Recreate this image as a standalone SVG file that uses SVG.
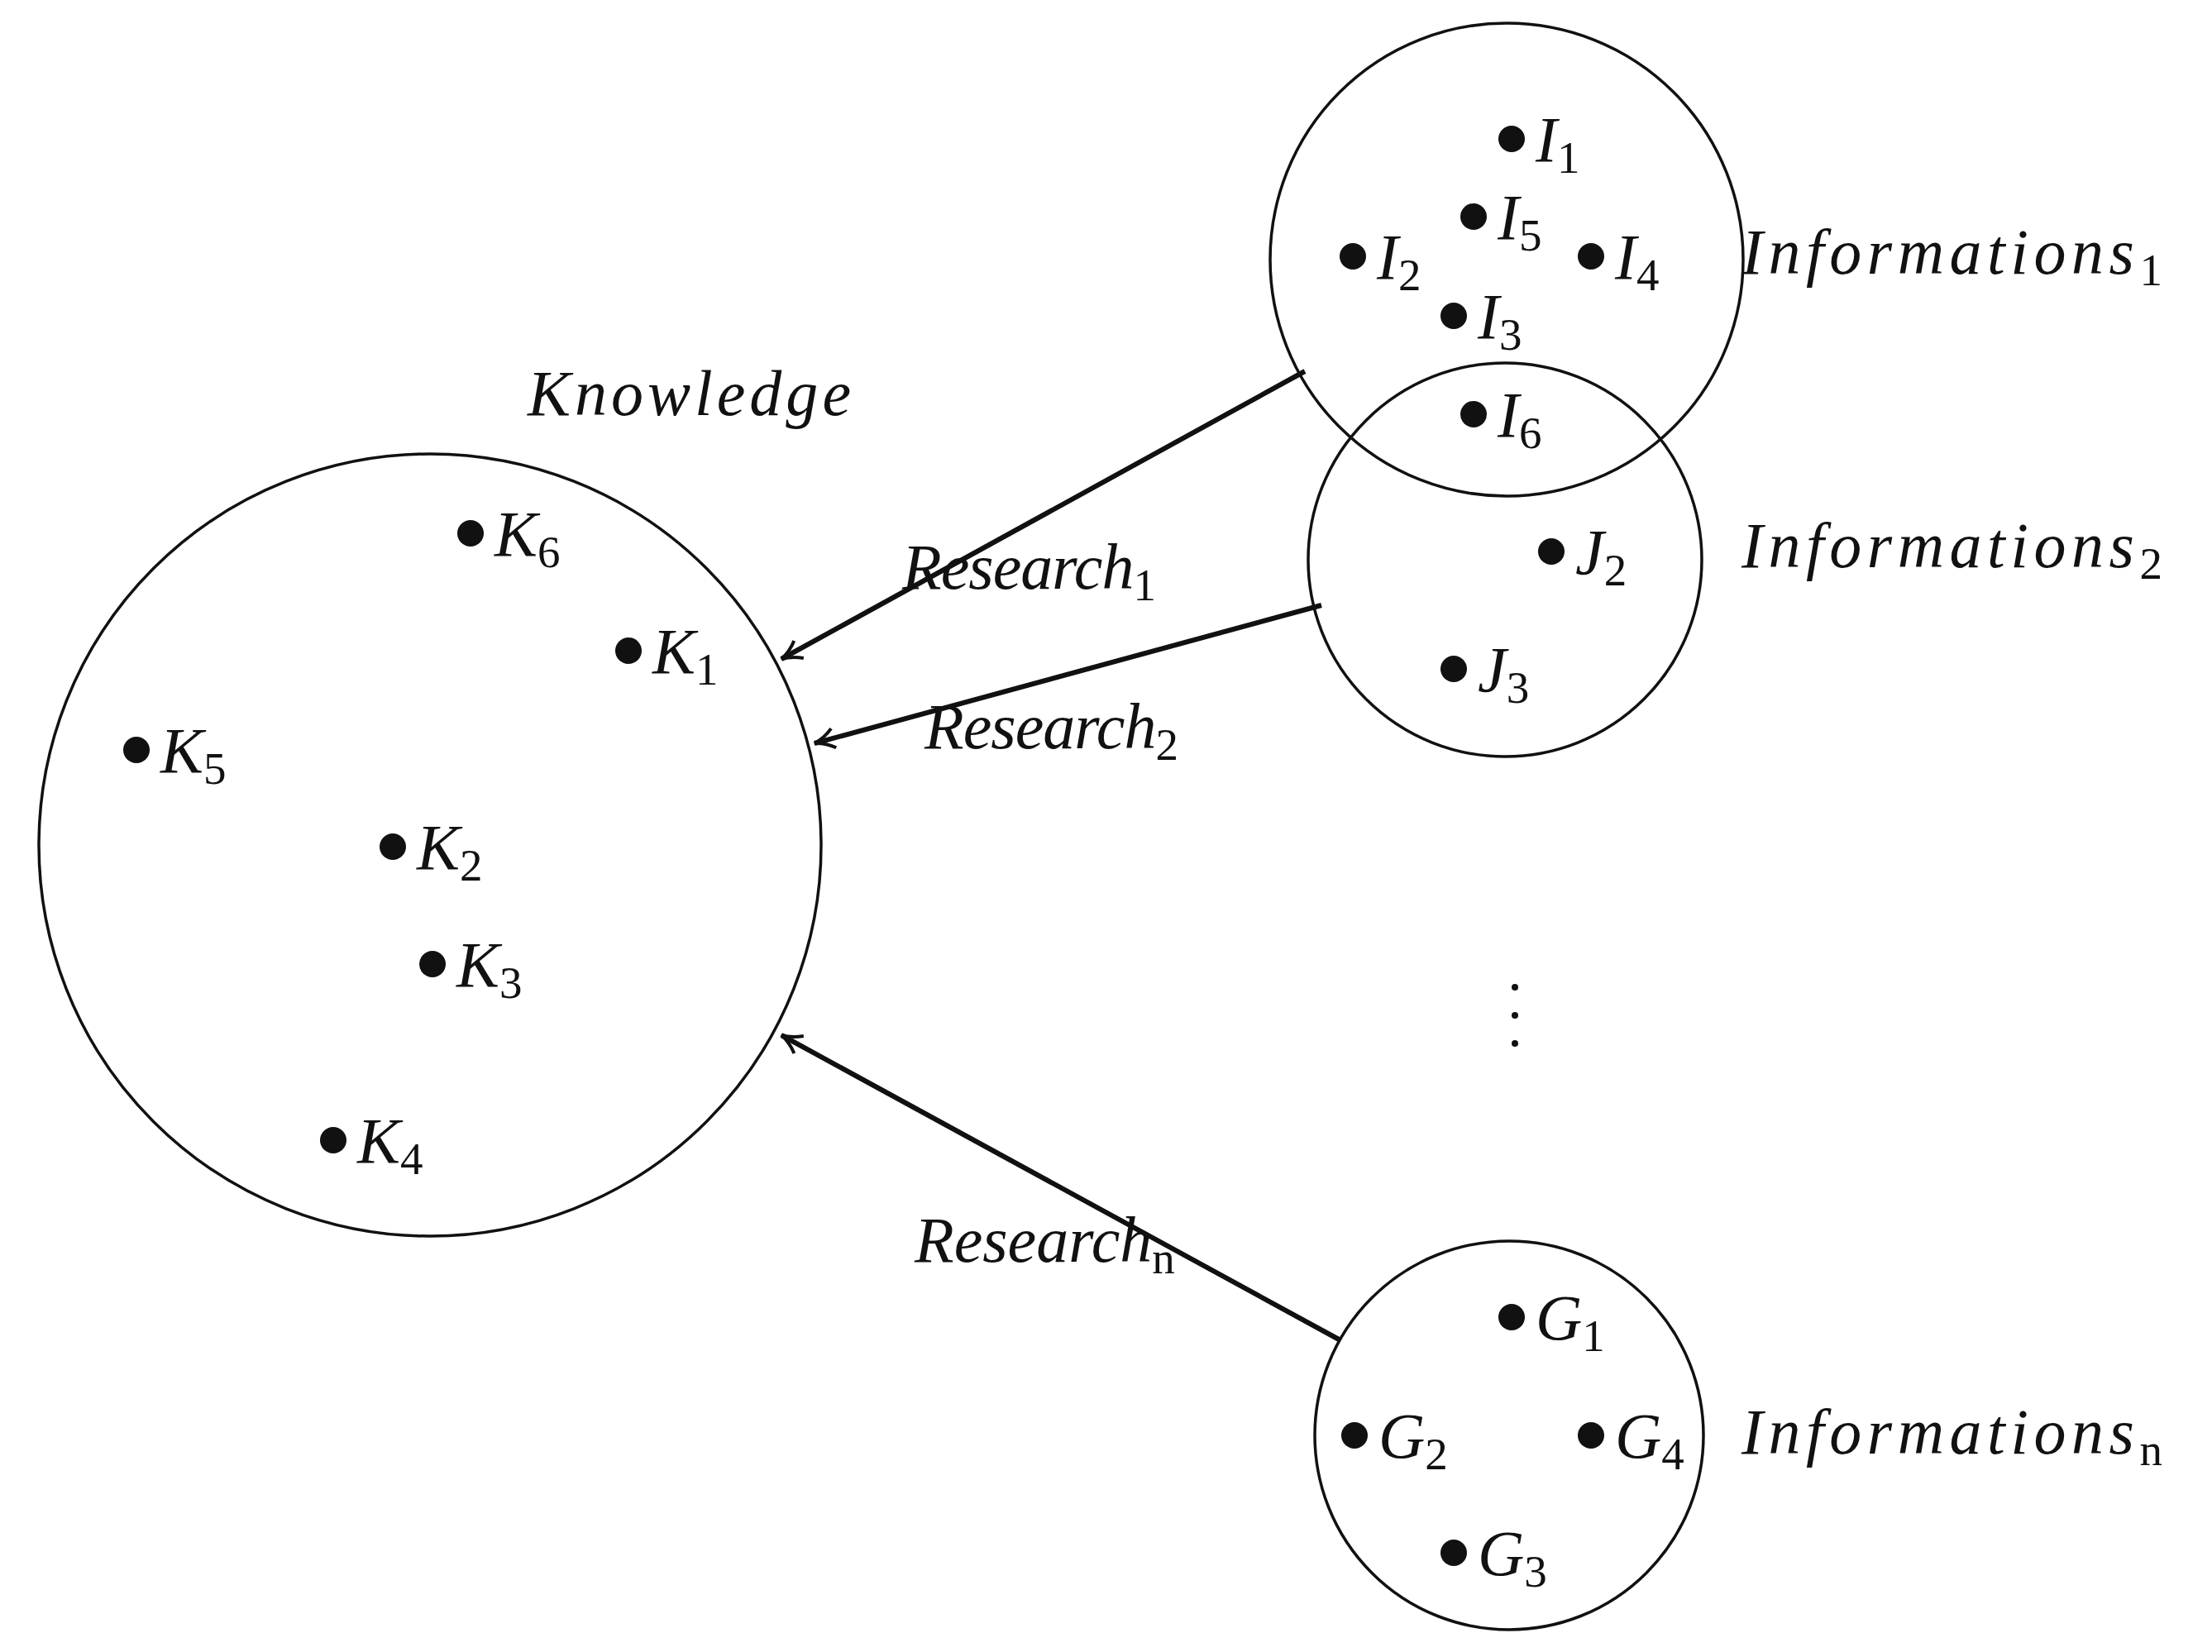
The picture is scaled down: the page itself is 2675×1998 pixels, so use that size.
<svg xmlns="http://www.w3.org/2000/svg" width="2675" height="1998" viewBox="0 0 2675 1998">
<style>
.c{fill:none;stroke:#111;stroke-width:3.5}
.d{fill:#111}
.m{font-family:"Liberation Serif",serif;font-style:italic;font-size:78px;fill:#111}
.s{font-style:normal;font-size:55px}
.a{stroke:#111;stroke-width:6;fill:none}
</style>
<defs><marker id="ar" markerWidth="12" markerHeight="12" refX="10" refY="6" orient="auto" markerUnits="userSpaceOnUse" viewBox="0 0 12 12"><path d="M0,0 L10,6 L0,12" fill="none" stroke="#111" stroke-width="2"/></marker>
<marker id="ah" viewBox="0 0 30 30" refX="27" refY="15" markerWidth="30" markerHeight="30" markerUnits="userSpaceOnUse" orient="auto"><path d="M3,3 Q14,12 27,15 Q14,18 3,27" fill="none" stroke="#111" stroke-width="4"/></marker></defs>
<g id="connectors">
<line class="a" x1="1578" y1="449" x2="945" y2="797" marker-end="url(#ah)"/>
<line class="a" x1="1598" y1="732" x2="985" y2="899" marker-end="url(#ah)"/>
<line class="a" x1="1621" y1="1621" x2="945" y2="1252" marker-end="url(#ah)"/>
<text class="m" x="1091" y="712" textLength="307">Research<tspan class="s" dy="14">1</tspan></text>
<text class="m" x="1118" y="905" textLength="307">Research<tspan class="s" dy="14">2</tspan></text>
<text class="m" x="1106" y="1526">Research<tspan class="s" dy="14" font-style="italic">n</tspan></text>
</g>
<g id="knowledge">
<circle class="c" cx="520" cy="1022" r="473"/>
<text class="m" x="638" y="502" textLength="391">Knowledge</text>
<circle class="d" cx="569" cy="645" r="16"/><text class="m" x="598" y="672">K<tspan class="s" dy="14">6</tspan></text>
<circle class="d" cx="760" cy="787" r="16"/><text class="m" x="789" y="814">K<tspan class="s" dy="14">1</tspan></text>
<circle class="d" cx="165" cy="907" r="16"/><text class="m" x="194" y="934">K<tspan class="s" dy="14">5</tspan></text>
<circle class="d" cx="475" cy="1024" r="16"/><text class="m" x="504" y="1051">K<tspan class="s" dy="14">2</tspan></text>
<circle class="d" cx="523" cy="1166" r="16"/><text class="m" x="552" y="1193">K<tspan class="s" dy="14">3</tspan></text>
<circle class="d" cx="403" cy="1379" r="16"/><text class="m" x="432" y="1406">K<tspan class="s" dy="14">4</tspan></text>
</g>
<g id="info1">
<circle class="c" cx="1822" cy="314" r="286"/>
<text class="m" x="2106" y="331" textLength="509">Informations<tspan class="s" dy="14">1</tspan></text>
<circle class="d" cx="1828" cy="168" r="16"/><text class="m" x="1857" y="195">I<tspan class="s" dy="14">1</tspan></text>
<circle class="d" cx="1782" cy="262" r="16"/><text class="m" x="1811" y="289">I<tspan class="s" dy="14">5</tspan></text>
<circle class="d" cx="1636" cy="310" r="16"/><text class="m" x="1665" y="337">I<tspan class="s" dy="14">2</tspan></text>
<circle class="d" cx="1924" cy="310" r="16"/><text class="m" x="1953" y="337">I<tspan class="s" dy="14">4</tspan></text>
<circle class="d" cx="1758" cy="382" r="16"/><text class="m" x="1787" y="409">I<tspan class="s" dy="14">3</tspan></text>
<circle class="d" cx="1782" cy="501" r="16"/><text class="m" x="1811" y="528">I<tspan class="s" dy="14">6</tspan></text>
</g>
<g id="info2">
<circle class="c" cx="1820" cy="677" r="238"/>
<text class="m" x="2106" y="686" textLength="509">Informations<tspan class="s" dy="14">2</tspan></text>
<circle class="d" cx="1876" cy="667" r="16"/><text class="m" x="1905" y="694">J<tspan class="s" dy="14">2</tspan></text>
<circle class="d" cx="1758" cy="809" r="16"/><text class="m" x="1787" y="836">J<tspan class="s" dy="14">3</tspan></text>
</g>
<g id="ellipsis">
<circle class="d" cx="1832" cy="1194" r="4"/><circle class="d" cx="1832" cy="1228" r="4"/><circle class="d" cx="1832" cy="1262" r="4"/>
</g>
<g id="infon">
<circle class="c" cx="1825" cy="1736" r="235"/>
<text class="m" x="2106" y="1758" textLength="509">Informations<tspan class="s" dy="14" font-style="italic">n</tspan></text>
<circle class="d" cx="1828" cy="1593" r="16"/><text class="m" x="1857" y="1620">G<tspan class="s" dy="14">1</tspan></text>
<circle class="d" cx="1638" cy="1736" r="16"/><text class="m" x="1667" y="1763">G<tspan class="s" dy="14">2</tspan></text>
<circle class="d" cx="1924" cy="1736" r="16"/><text class="m" x="1953" y="1763">G<tspan class="s" dy="14">4</tspan></text>
<circle class="d" cx="1758" cy="1878" r="16"/><text class="m" x="1787" y="1905">G<tspan class="s" dy="14">3</tspan></text>
</g>
</svg>
